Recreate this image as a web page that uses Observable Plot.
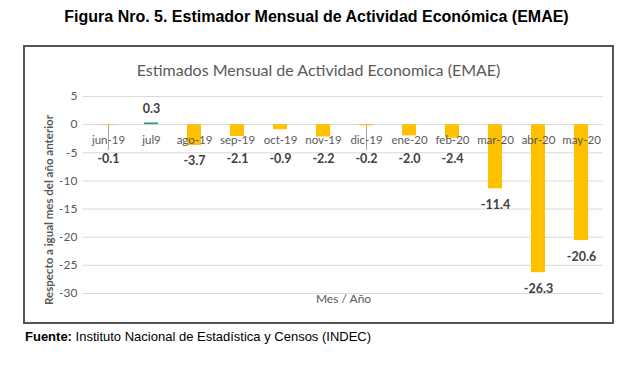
<!DOCTYPE html>
<html><head><meta charset="utf-8">
<script src="https://cdn.jsdelivr.net/npm/d3@7"></script>
<script src="https://cdn.jsdelivr.net/npm/@observablehq/plot@0.6"></script>
<style>
body{margin:0;background:#fff;width:633px;height:369px;position:relative;overflow:hidden;font-family:"Liberation Sans",Arial,sans-serif}
#title{position:absolute;left:0;width:633px;top:8px;text-align:center;font-weight:bold;font-size:16px;color:#000;line-height:18px}
#box{position:absolute;left:23px;top:45px;width:587px;height:275px;border:2px solid #555;background:#fff}
#ctitle{position:absolute;left:0;width:100%;top:13px;text-align:center;font-family:Lato,sans-serif;font-size:16px;color:#595959;line-height:20px;z-index:2}
#chart{position:absolute;left:0;top:0}
#caption{position:absolute;left:25px;top:329px;font-size:13px;color:#000;line-height:15px}
</style></head>
<body>
<div id="title">Figura Nro. 5. Estimador Mensual de Actividad Económica (EMAE)</div>
<div id="box"><div id="ctitle">Estimados Mensual de Actividad Economica (EMAE)</div><div id="chart"></div></div>
<div id="caption"><b>Fuente:</b> Instituto Nacional de Estadística y Censos (INDEC)</div>
<script>
const months = ["jun-19","jul9","ago-19","sep-19","oct-19","nov-19","dic-19","ene-20","feb-20","mar-20","abr-20","may-20"];
const values = [-0.1, 0.3, -3.7, -2.1, -0.9, -2.2, -0.2, -2.0, -2.4, -11.4, -26.3, -20.6];
const yTicks = [5, 0, -5, -10, -15, -20, -25, -30];
const yLabel = "Respecto a igual mes del año anterior";
const xLabel = "Mes / Año";

const data = months.map((m, i) => ({m, v: values[i]}));
const neg = data.filter(d => d.v < 0);
const pos = data.filter(d => d.v >= 0);
const small = neg.filter(d => d.v > -0.5);
const fmt = d => d.v.toFixed(1);

const chart = Plot.plot({
  width: 587, height: 275,
  marginLeft: 58, marginRight: 9, marginTop: 49, marginBottom: 29,
  style: {fontFamily: "Lato, sans-serif", background: "transparent"},
  x: {domain: months, paddingInner: 0.67, paddingOuter: 0.335, insetLeft: 3.5, axis: null},
  y: {domain: [-30, 5], axis: null},
  marks: [
    Plot.ruleY(yTicks, {stroke: "#d9d9d9", strokeWidth: 1}),
    Plot.axisY({ticks: yTicks, tickSize: 0, tickPadding: 6, tickFormat: d => String(d), label: null, fontSize: 12, fill: "#595959"}),
    Plot.ruleX(small, {x: "m", y1: 0, y2: -4.6, stroke: "#a6a6a6", strokeWidth: 1}),
    Plot.barY(neg, {x: "m", y: "v", fill: "#FFC000"}),
    Plot.barY(pos, {x: "m", y: "v", fill: "#2E9B7B"}),
    Plot.text(data, {x: "m", y: 0, dy: 16, text: "m", fill: "#595959", fontSize: 11.5}),
    Plot.text(neg, {x: "m", y: d => Math.min(d.v, -3.2), dy: 16, text: fmt, fill: "#404040", fontSize: 12.5, fontWeight: "bold"}),
    Plot.text(pos, {x: "m", y: "v", dy: -14, text: fmt, fill: "#404040", fontSize: 12.5, fontWeight: "bold"}),
    Plot.text([yLabel], {frameAnchor: "left", textAnchor: "middle", dx: -34, dy: 15, rotate: -90, fill: "#595959", fontSize: 11.5, fontWeight: "bold"}),
    Plot.text([xLabel], {frameAnchor: "bottom", dy: 9, fill: "#595959", fontSize: 12})
  ]
});
document.getElementById("chart").appendChild(chart);
</script>
</body></html>
